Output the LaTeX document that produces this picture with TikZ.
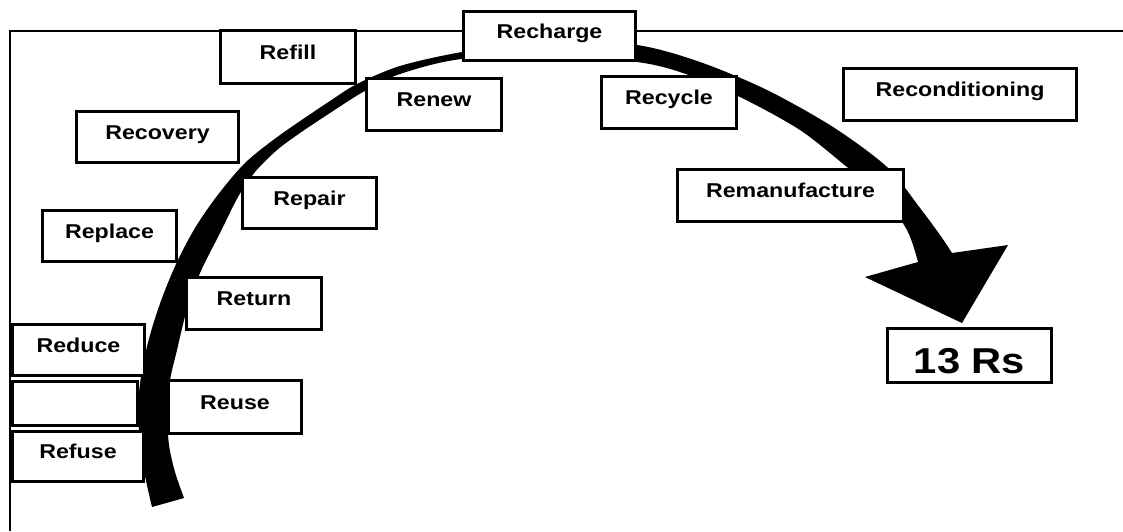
\documentclass[tikz,border=0pt]{standalone}
\usepackage{fontspec}
\newfontfamily\rsfont{Liberation Sans}[FakeStretch=1.16]
\usetikzlibrary{positioning}
\tikzset{rbox/.style={draw,line width=3pt,fill=white,inner sep=0pt,font=\rsfont\bfseries\fontsize{20}{24}\selectfont,text height=14pt,text depth=10pt}}
\tikzset{frame/.style={line width=2pt}}
\tikzset{band/.style={fill=black}}
\begin{document}
\begin{tikzpicture}[x=1pt,y=-1pt]
  \useasboundingbox (0,0) rectangle (1123,531);
  \draw[frame] (10,531) -- (10,31) -- (1123,31);
  % the big curved arrow
  \fill[band] plot[smooth] coordinates {(152,507) (142,460) (138,410) (142,370)
      (150,335) (162,298) (177,262) (195,228) (217,196) (245,163) (280,135)
      (330,101) (357,84) (400,66) (462,52) (550,40) (637,45) (700,62) (767,90)
      (833,127) (887,167) (920,208) (940,235) (952,253)}
    -- (1008,245) -- (962,323) -- (865,277) -- (918,262)
    -- plot[smooth] coordinates {(918,262) (907,230) (880,193) (847,167)
      (800,130) (740,97) (683,73) (637,62) (560,57) (462,59) (400,74) (363,92)
      (330,113) (300,133) (277,150) (255,172) (238,197) (220,233) (200,273)
      (186,313) (177,350) (170,380) (167,410) (169,445) (175,472) (184,498)}
    -- cycle;
  % the boxes
  \foreach \nm/\lbl/\cx/\cy/\bw/\bh in {
      recharge/Recharge/549.5/36/172pt/49pt,
      refill/Refill/288/57/135pt/53pt,
      renew/Renew/434/104.5/135pt/52pt,
      recycle/Recycle/669/102.5/135pt/52pt,
      recond/Reconditioning/960/94.5/233pt/52pt,
      recovery/Recovery/157.5/137/162pt/51pt,
      repair/Repair/309.5/203/134pt/51pt,
      reman/Remanufacture/790.5/195.5/226pt/52pt,
      replace/Replace/109.5/236/134pt/51pt,
      return/Return/254/303.5/135pt/52pt,
      reduce/Reduce/78.5/350/132pt/51pt,
      blank//75/403.5/125pt/44pt,
      reuse/Reuse/235/407/133pt/53pt,
      refuse/Refuse/78/456.5/131pt/50pt}
    \node[rbox,minimum width=\bw,minimum height=\bh] (\nm) at (\cx,\cy) {\lbl};
  \node[rbox,minimum width=164pt,minimum height=54pt,
    font=\rsfont\bfseries\fontsize{36}{40}\selectfont,
    text height=35pt,text depth=0pt] (rs) at (969.5,355.5) {13 Rs};
\end{tikzpicture}
\end{document}
